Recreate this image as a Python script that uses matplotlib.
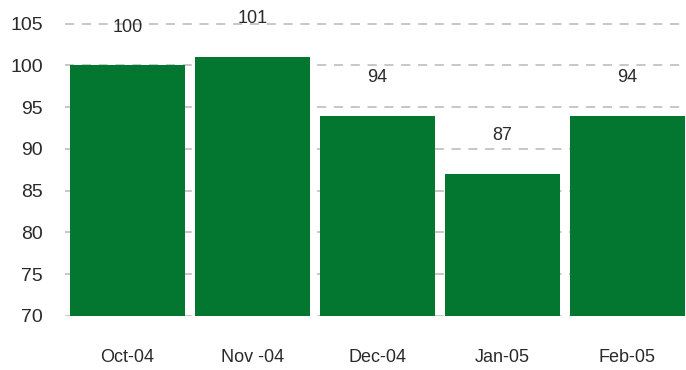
import matplotlib
matplotlib.use("Agg")
import matplotlib.pyplot as plt

MONTHS = ["Oct-04", "Nov -04", "Dec-04", "Jan-05", "Feb-05"]
VALUES = [100, 101, 94, 87, 94]
YTICKS = [70, 75, 80, 85, 90, 95, 100, 105]

plt.rcParams.update({"font.family": ["Liberation Sans", "DejaVu Sans"]})

fig = plt.figure(figsize=(6.86, 3.70), dpi=100)
ax = fig.add_axes([65 / 686, 54 / 370, 621 / 686, 309 / 370])

x = list(range(len(MONTHS)))
ax.bar(x, VALUES, width=0.92, color="#03772f", zorder=2)
for xi, v in zip(x, VALUES):
    ax.text(xi, v + 4.6, str(v), ha="center", va="center", fontsize=13,
            color="#2a2a2a", zorder=3)

ax.set_ylim(70, 107)
ax.set_xlim(-0.5, 4.472)
ax.set_yticks(YTICKS)
ax.set_yticklabels([str(t) for t in YTICKS], fontsize=14, color="#2a2a2a")
ax.set_xticks(x)
ax.set_xticklabels(MONTHS, fontsize=13, color="#2a2a2a")
ax.tick_params(axis="both", length=0)
ax.tick_params(axis="y", pad=16)
ax.tick_params(axis="x", pad=24)
ax.yaxis.grid(True, color="#b8b8b8", linestyle=(0, (6, 5)), linewidth=1.1, zorder=1)
for s in ax.spines.values():
    s.set_visible(False)

fig.savefig("out.png", dpi=100)
